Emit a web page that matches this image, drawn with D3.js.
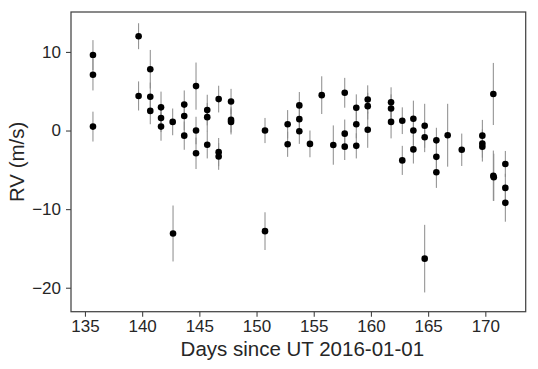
<!DOCTYPE html>
<html>
<head>
<meta charset="utf-8">
<script src="https://cdn.jsdelivr.net/npm/d3@7"></script>
<style>
  body { margin: 0; background: #fff; }
  text { font-family: "Liberation Sans", Arial, sans-serif; fill: #262626; }
</style>
</head>
<body>
<div id="chart"></div>
<script>
// observation times (days since UT 2016-01-01), RV (m/s) and 1-sigma errors
var days = [135.70,135.70,135.70,139.69,139.69,140.71,140.71,140.71,141.65,141.65,141.65,142.67,142.70,
  143.68,143.68,143.68,144.71,144.71,144.71,145.69,145.69,145.69,146.69,146.69,146.69,147.77,147.77,147.77,
  150.74,150.74,152.72,152.72,153.74,153.74,153.74,154.67,155.70,156.71,157.71,157.71,157.71,
  158.72,158.72,158.72,159.72,159.72,159.72,161.76,161.76,161.76,162.74,162.74,163.71,163.71,163.71,
  164.70,164.70,164.70,165.72,165.72,165.72,166.71,167.94,169.74,169.74,169.74,170.70,170.70,170.74,
  171.75,171.75,171.75];
var rv = [9.6,7.1,0.5,12.0,4.4,7.8,4.3,2.5,2.95,1.6,0.5,1.1,-13.1,
  3.3,1.85,-0.65,5.65,0.0,-2.9,2.6,1.7,-1.8,4.0,-2.75,-3.3,3.7,1.35,1.1,
  0.0,-12.8,0.8,-1.75,3.2,1.45,-0.1,-1.7,4.5,-1.85,4.8,-0.4,-2.05,
  2.9,0.8,-1.95,3.95,3.1,0.1,3.6,2.8,1.1,1.25,-3.8,1.5,0.0,-2.4,
  0.6,-0.85,-16.3,-1.25,-3.35,-5.3,-0.6,-2.45,-0.65,-1.65,-2.05,4.65,-5.75,-5.95,
  -4.25,-7.3,-9.2];
var err = [1.9,2.0,1.9,1.65,1.85,2.45,1.8,1.7,2.0,1.8,1.8,1.7,3.56,
  1.8,1.8,1.8,3.0,1.75,2.0,1.95,1.8,1.75,1.7,1.8,1.7,1.6,1.6,1.6,
  1.6,2.4,1.8,1.6,1.7,1.7,1.6,1.7,2.4,2.5,1.9,1.8,1.7,
  1.7,1.8,1.6,1.8,1.7,2.3,1.9,1.8,2.1,1.7,1.85,2.3,1.9,1.8,
  2.8,1.9,4.3,1.6,1.8,2.0,4.0,2.06,2.0,1.8,1.9,3.95,3.2,3.0,
  1.65,1.8,2.4];

var xTicks = [135,140,145,150,155,160,165,170];
var yTicks = [-20,-10,0,10];

var W = 538, H = 369;
var margin = { top: 12, right: 12.3, bottom: 57.3, left: 71 };
var width = W - margin.left - margin.right;
var height = H - margin.top - margin.bottom;

var data = days.map(function(d, i) { return { t: d, v: rv[i], e: err[i] }; });

var svg = d3.select("#chart").append("svg")
  .attr("width", W)
  .attr("height", H)
.append("g")
  .attr("transform", "translate(" + margin.left + "," + margin.top + ")");

var x = d3.scaleLinear().domain([133.78, 173.53]).range([0, width]);
var y = d3.scaleLinear().domain([-23.05, 15.08]).range([height, 0]);

var fmt = function(d) { return d < 0 ? "\u2212" + Math.abs(d) : "" + d; };

// axes
var xAxis = svg.append("g")
  .attr("transform", "translate(0," + height + ")")
  .call(d3.axisBottom(x).tickValues(xTicks).tickSize(5).tickPadding(3.5).tickFormat(fmt));
var yAxis = svg.append("g")
  .call(d3.axisLeft(y).tickValues(yTicks).tickSize(5).tickPadding(5).tickFormat(fmt));

[xAxis, yAxis].forEach(function(a) {
  a.select(".domain").remove();
  a.selectAll("line").attr("stroke", "#444").attr("stroke-width", 1.1);
  a.selectAll("text").style("font-size", "17px").attr("fill", "#262626");
});

// frame
svg.append("rect")
  .attr("x", 0).attr("y", 0)
  .attr("width", width).attr("height", height)
  .attr("fill", "none")
  .attr("stroke", "#444")
  .attr("stroke-width", 1.25);

// error bars
svg.selectAll(".err")
  .data(data)
  .enter().append("line")
  .attr("class", "err")
  .attr("x1", function(d) { return x(d.t); })
  .attr("x2", function(d) { return x(d.t); })
  .attr("y1", function(d) { return y(d.v + d.e); })
  .attr("y2", function(d) { return y(d.v - d.e); })
  .attr("stroke", "#8a8a8a")
  .attr("stroke-width", 1);

// points
svg.selectAll(".pt")
  .data(data)
  .enter().append("circle")
  .attr("class", "pt")
  .attr("cx", function(d) { return x(d.t); })
  .attr("cy", function(d) { return y(d.v); })
  .attr("r", 3.3)
  .attr("fill", "#000");

// axis labels
svg.append("text")
  .attr("x", width / 2 + 4)
  .attr("y", height + 44.5)
  .attr("text-anchor", "middle")
  .style("font-size", "20.5px")
  .text("Days since UT 2016-01-01");

svg.append("text")
  .attr("transform", "translate(" + (-47) + "," + (height / 2) + ") rotate(-90)")
  .attr("text-anchor", "middle")
  .style("font-size", "20.5px")
  .text("RV (m/s)");
</script>
</body>
</html>
